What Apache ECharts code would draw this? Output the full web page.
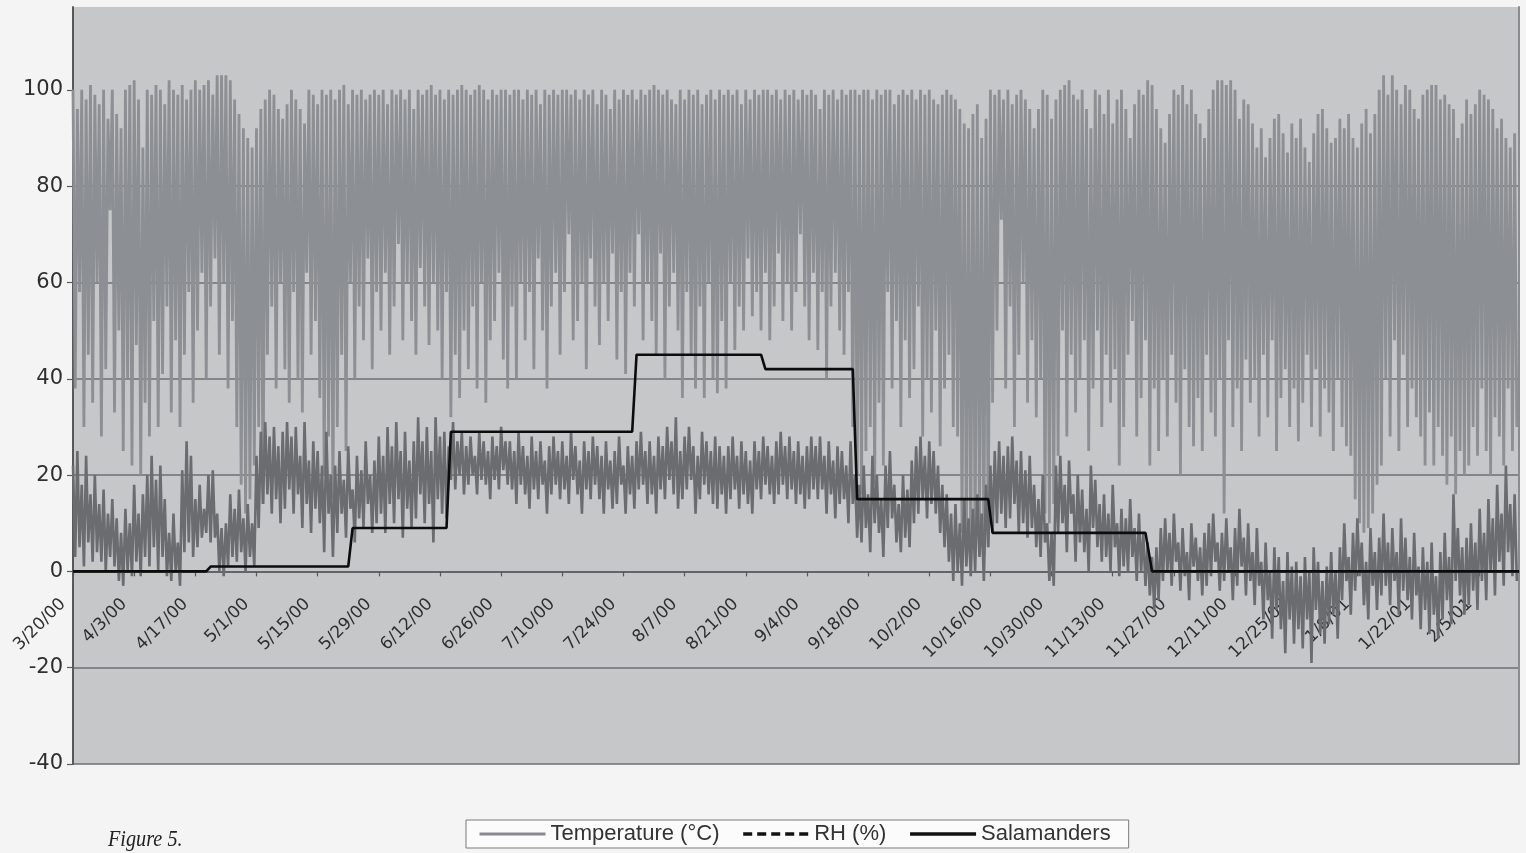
<!DOCTYPE html>
<html>
<head>
<meta charset="utf-8">
<script src="https://cdn.jsdelivr.net/npm/echarts@6/dist/echarts.min.js"></script>
<style>
  html, body { margin: 0; padding: 0; background: #f4f4f4; }
  #chart { width: 1526px; height: 853px; }
</style>
</head>
<body>
<div id="chart"></div>
<script>
// Tick labels (every 14 days starting 3/20/00)
const DATE_LABELS = ['3/20/00','4/3/00','4/17/00','5/1/00','5/15/00','5/29/00','6/12/00','6/26/00',
  '7/10/00','7/24/00','8/7/00','8/21/00','9/4/00','9/18/00','10/2/00','10/16/00','10/30/00',
  '11/13/00','11/27/00','12/11/00','12/25/00','1/8/01','1/22/01','2/5/01'];
const LABEL_STEP_DAYS = 14;
const LAST_DAY = 331;
const Y_TICKS = [-40, -20, 0, 20, 40, 60, 80, 100];

// Daily relative humidity maxima / minima (%), day 0 = 3/20/00
const rhMax = [
  100,96,100,98,101,99,97,100,94,100,
  95,92,100,101,102,98,88,100,99,101,
  100,97,102,100,99,101,98,100,102,100,
  101,102,99,103,103,103,102,98,95,92,
  90,88,92,96,98,100,99,96,94,97,
  100,98,96,93,100,99,97,100,99,100,
  98,100,101,97,100,99,100,98,99,100,
  99,100,97,100,99,100,98,100,96,100,
  99,100,101,99,100,98,100,99,100,101,
  100,99,100,101,100,98,100,99,100,100,
  99,100,100,98,100,99,100,97,100,99,
  100,99,100,100,99,100,98,100,99,100,
  97,100,99,96,100,98,100,99,100,98,
  100,99,100,101,100,99,100,98,97,100,
  98,100,99,100,97,99,100,98,100,99,
  100,99,100,97,100,98,100,99,100,100,
  99,100,98,100,99,100,98,100,99,100,
  99,96,100,99,100,98,100,99,100,100,
  99,100,100,98,100,99,100,100,97,99,
  100,99,100,98,100,99,100,98,97,99,
  100,99,98,96,93,92,95,97,90,94,
  100,99,100,98,100,97,99,100,98,96,
  92,96,100,99,94,98,100,101,102,99,
  98,100,96,92,100,99,95,100,93,98,
  100,96,90,97,100,99,102,101,96,92,
  89,95,100,99,101,97,100,95,93,90,
  96,100,102,102,101,102,100,94,98,97,
  93,88,92,86,90,94,95,91,87,93,
  90,94,88,85,91,95,96,92,89,90,
  94,92,95,90,88,93,96,91,95,100,
  103,99,103,100,97,101,100,96,94,99,
  100,101,101,98,99,97,96,90,93,98,
  95,97,100,99,98,96,92,94,90,88,
  91
];
const rhMin = [
  38,58,30,45,35,60,28,42,75,33,
  50,25,40,22,47,20,35,28,52,30,
  41,55,33,48,30,45,58,35,50,62,
  40,55,65,45,60,38,52,30,18,12,
  15,22,30,14,45,55,38,60,42,35,
  58,40,33,62,45,52,36,20,28,15,
  30,45,25,60,40,55,48,65,42,58,
  50,62,45,55,68,48,60,52,45,63,
  55,47,60,50,40,58,32,45,36,50,
  42,55,38,60,35,48,52,62,44,38,
  55,40,60,48,58,42,65,50,38,55,
  62,45,58,70,48,52,60,42,65,55,
  47,60,52,66,44,58,41,62,55,70,
  48,60,52,45,66,40,55,62,50,36,
  58,45,38,55,36,60,40,37,52,38,
  60,46,55,50,65,53,58,50,62,48,
  55,66,52,60,50,58,70,55,48,62,
  46,58,40,55,62,50,45,58,30,20,
  16,25,30,18,35,22,58,38,52,30,
  48,36,42,55,28,40,33,50,26,38,
  45,30,28,8,3,2,4,6,3,5,
  35,50,73,38,55,30,45,60,35,48,
  32,40,12,10,14,24,50,28,45,33,
  40,48,25,38,50,30,45,35,42,22,
  30,45,52,28,36,48,22,38,25,40,
  28,45,35,20,42,30,26,36,25,45,
  33,28,40,12,48,30,38,25,44,35,
  40,28,45,32,48,25,36,42,30,38,
  27,35,45,30,42,28,38,33,25,40,
  30,26,24,15,10,8,9,12,18,22,
  40,28,48,25,45,30,38,32,28,22,
  33,22,30,24,18,28,16,25,20,22,
  30,24,38,25,20,32,28,22,38,25,
  30
];

// Daily temperature maxima / minima (°C)
const tempMax = [
  22,25,18,24,16,20,14,17,12,15,
  11,8,13,10,18,12,16,20,24,19,
  22,15,8,12,6,21,27,24,15,18,
  13,20,21,12,9,10,16,13,17,11,
  14,10,24,29,31,28,30,26,29,31,
  28,30,24,31,23,27,25,22,29,20,
  22,25,19,26,17,24,21,27,20,23,
  28,24,30,26,31,25,29,23,27,32,
  27,30,25,32,28,29,26,31,27,29,
  26,28,24,29,27,25,28,26,30,27,
  27,25,29,26,24,28,25,27,23,26,
  28,25,27,24,29,26,23,27,25,28,
  26,24,27,23,25,28,22,26,24,27,
  29,25,27,24,28,26,30,27,32,25,
  28,30,26,24,29,27,25,28,26,24,
  26,28,24,27,25,23,27,25,28,26,
  24,27,29,26,28,25,27,24,26,28,
  26,28,24,27,23,26,25,22,27,20,
  18,22,16,24,20,15,22,25,18,14,
  20,17,23,26,28,24,27,25,22,18,
  16,12,14,10,15,11,13,16,12,18,
  22,25,27,24,26,28,23,25,21,24,
  18,15,20,10,8,22,24,18,23,16,
  20,17,13,22,19,14,16,12,18,10,
  13,11,15,9,12,8,6,3,5,9,
  11,8,12,6,9,4,10,7,5,8,
  10,12,6,8,11,5,9,13,7,10,
  4,9,2,6,0,5,3,-2,4,1,
  2,-1,3,0,5,2,-2,1,4,0,
  5,10,3,8,11,6,2,9,4,7,
  12,6,9,4,11,7,3,8,1,5,
  2,6,-1,4,8,3,16,9,5,7,
  10,6,13,8,15,11,18,12,22,14,
  16
];
const tempMin = [
  3,5,1,6,2,4,2,0,3,1,
  -2,-3,0,-1,2,-1,3,1,5,0,
  3,-1,-2,0,-3,4,6,3,5,7,
  8,6,7,0,-1,1,3,2,4,0,
  3,1,9,14,16,12,15,10,13,17,
  12,16,9,14,8,13,10,4,12,3,
  8,12,7,13,6,11,9,14,8,10,
  12,8,14,10,15,7,13,9,11,16,
  10,14,6,15,12,11,19,17,20,16,
  18,20,16,19,18,15,19,17,21,18,
  17,14,18,16,13,17,15,18,12,16,
  18,15,17,14,19,16,12,17,15,18,
  15,12,17,13,14,18,12,16,13,17,
  18,14,16,12,17,15,19,16,13,15,
  17,19,12,15,18,16,14,13,16,12,
  15,17,13,16,14,12,17,15,18,16,
  14,16,18,15,17,14,16,13,15,17,
  15,17,12,16,11,14,15,10,14,7,
  6,9,4,10,8,3,9,11,6,4,
  7,5,10,12,15,11,14,12,8,5,
  2,-2,0,-3,1,-1,0,3,-2,5,
  8,10,12,9,11,14,8,10,7,9,
  5,3,6,-2,-3,8,10,4,12,2,
  6,4,0,9,5,2,3,0,5,-1,
  1,0,3,-2,0,-3,-5,-8,-6,-2,
  0,-3,2,-4,-1,-6,1,-2,-5,-3,
  -1,2,-4,-2,0,-6,-3,1,-5,-2,
  -7,-3,-10,-6,-14,-8,-12,-17,-10,-15,
  -12,-16,-10,-19,-8,-13,-15,-11,-9,-14,
  -6,-2,-9,-4,-1,-7,-10,-3,-8,-5,
  -3,-7,-2,-9,-4,-6,-10,-5,-12,-8,
  -13,-9,-14,-10,-6,-11,-2,-5,-9,-7,
  -4,-8,-2,-6,0,-5,2,-3,4,-1,
  -2
];

// Salamander counts (day index, count)
const salDays   = [0, 30.5, 31.5, 63, 64, 85.5, 86.5, 128, 129, 157.5, 158.5, 178.5, 179.5, 209.5, 210.5, 245.5, 247, 331];
const salCounts = [0, 0,    1,    1,  9,  9,    29,   29,  45,  45,    42,    42,    15,    15,    8,     8,     0,   0];

const Y_MIN = -40, Y_MAX = 117.2, Y_STEP = 20;

// Build zig-zag (max then min) series for each day
function dailySeries(maxArr, minArr) {
  const out = [];
  for (let i = 0; i < maxArr.length; i++) {
    out.push([i, maxArr[i]]);
    out.push([i + 0.5, minArr[i]]);
  }
  return out;
}
const rhData = dailySeries(rhMax, rhMin);
const tempData = dailySeries(tempMax, tempMin);
const salData = salDays.map((d, i) => [d, salCounts[i]]);
const xTickValues = DATE_LABELS.map((_, i) => i * LABEL_STEP_DAYS);

// layout
const W = 1526, H = 853;
const G = { left: 73, right: 7, top: 7, bottom: 89 };
const LABEL_SHIFT = 10;   // rotated labels sit a little left of their ticks
const plotH = H - G.top - G.bottom;
const zeroY = G.top + (Y_MAX - 0) / (Y_MAX - Y_MIN) * plotH;

const chart = echarts.init(document.getElementById('chart'), null, { renderer: 'canvas' });
const axisColor = '#58595c';
const gridLineColor = '#6d6f72';
const FONT = 'Liberation Sans, Arial, sans-serif';
const WIDE_FONT = 'DejaVu Sans, Verdana, sans-serif';
const hiddenLegendSymbol = { opacity: 0 };
chart.setOption({
  animation: false,
  backgroundColor: '#f4f4f4',
  grid: [
    { left: G.left, right: G.right, top: G.top, bottom: G.bottom,
      show: true, backgroundColor: '#c5c7c9', borderWidth: 0 },
    // label band: its bottom edge sits on the y = 0 line of the main grid
    { left: G.left - LABEL_SHIFT, right: G.right + LABEL_SHIFT, top: G.top, bottom: H - zeroY, show: false }
  ],
  xAxis: [{
    type: 'value', min: 0, max: LAST_DAY, interval: LABEL_STEP_DAYS, gridIndex: 0,
    axisLine: { show: true, onZero: true, lineStyle: { color: axisColor, width: 1.5 } },
    axisTick: { show: true, length: 5, customValues: xTickValues, lineStyle: { color: axisColor, width: 1.2 } },
    axisLabel: { show: false },
    splitLine: { show: false }
  }, {
    type: 'value', min: 0, max: LAST_DAY, interval: LABEL_STEP_DAYS, gridIndex: 1,
    position: 'bottom',
    axisLine: { show: false, onZero: false }, axisTick: { show: false },
    axisLabel: {
      rotate: 45, margin: 30, color: '#2e2f31', fontSize: 17, fontFamily: WIDE_FONT,
      customValues: xTickValues,
      formatter: v => (v % LABEL_STEP_DAYS === 0 ? (DATE_LABELS[v / LABEL_STEP_DAYS] || '') : '')
    },
    splitLine: { show: false }
  }],
  yAxis: [{
    type: 'value', min: Y_MIN, max: Y_MAX, interval: Y_STEP, gridIndex: 0,
    axisLine: { show: true, lineStyle: { color: axisColor, width: 2 } },
    axisTick: { show: true, length: 6, customValues: Y_TICKS, lineStyle: { color: axisColor, width: 1.2 } },
    axisLabel: {
      color: '#2e2f31', fontSize: 21, margin: 10, fontFamily: WIDE_FONT,
      customValues: Y_TICKS,
      formatter: v => (v % Y_STEP === 0 ? String(v) : '')
    },
    splitLine: { show: true, showMaxLine: false, lineStyle: { color: gridLineColor, width: 1.6 } }
  }, {
    type: 'value', min: Y_MIN, max: Y_MAX, position: 'right', gridIndex: 0,
    axisLine: { show: true, lineStyle: { color: '#8a8c8f', width: 2 } },
    axisTick: { show: false }, axisLabel: { show: false }, splitLine: { show: false }
  }, {
    type: 'value', min: 0, max: 1, gridIndex: 1, show: false
  }],
  legend: {
    left: 466, top: 820,
    backgroundColor: '#fbfbfb', borderColor: '#7a7a7a', borderWidth: 1,
    padding: [3, 18, 3, 12], itemGap: 22,
    itemWidth: 66, itemHeight: 14,
    textStyle: { color: '#333', fontSize: 22, fontFamily: FONT },
    data: [
      { name: 'Temperature (°C)', itemStyle: hiddenLegendSymbol, lineStyle: { color: '#8a8b8e', width: 3 } },
      { name: 'RH (%)', itemStyle: hiddenLegendSymbol, lineStyle: { color: '#111', width: 3.5, type: [9, 5] } },
      { name: 'Salamanders', itemStyle: hiddenLegendSymbol, lineStyle: { color: '#111', width: 3.5 } }
    ]
  },
  graphic: [{
    type: 'text', left: 108, top: 828, scaleX: 0.88,
    style: { text: 'Figure 5.', fill: '#222', font: 'italic 23px "Liberation Serif", "Times New Roman", serif' }
  }],
  series: [
    {
      name: 'RH (%)', type: 'line', data: rhData, showSymbol: false, symbol: 'none',
      xAxisIndex: 0, yAxisIndex: 0,
      lineStyle: { color: '#8c8f93', width: 2.8 }, itemStyle: { color: '#8c8f93' }, z: 2
    },
    {
      name: 'Temperature (°C)', type: 'line', data: tempData, showSymbol: false, symbol: 'none',
      xAxisIndex: 0, yAxisIndex: 0,
      lineStyle: { color: '#6a6c70', width: 2.6 }, itemStyle: { color: '#6a6c70' }, z: 3
    },
    {
      name: 'Salamanders', type: 'line', data: salData, showSymbol: false, symbol: 'none',
      xAxisIndex: 0, yAxisIndex: 0,
      lineStyle: { color: '#0c0c0c', width: 2.6 }, itemStyle: { color: '#0c0c0c' }, z: 4
    }
  ]
});
</script>
</body>
</html>
